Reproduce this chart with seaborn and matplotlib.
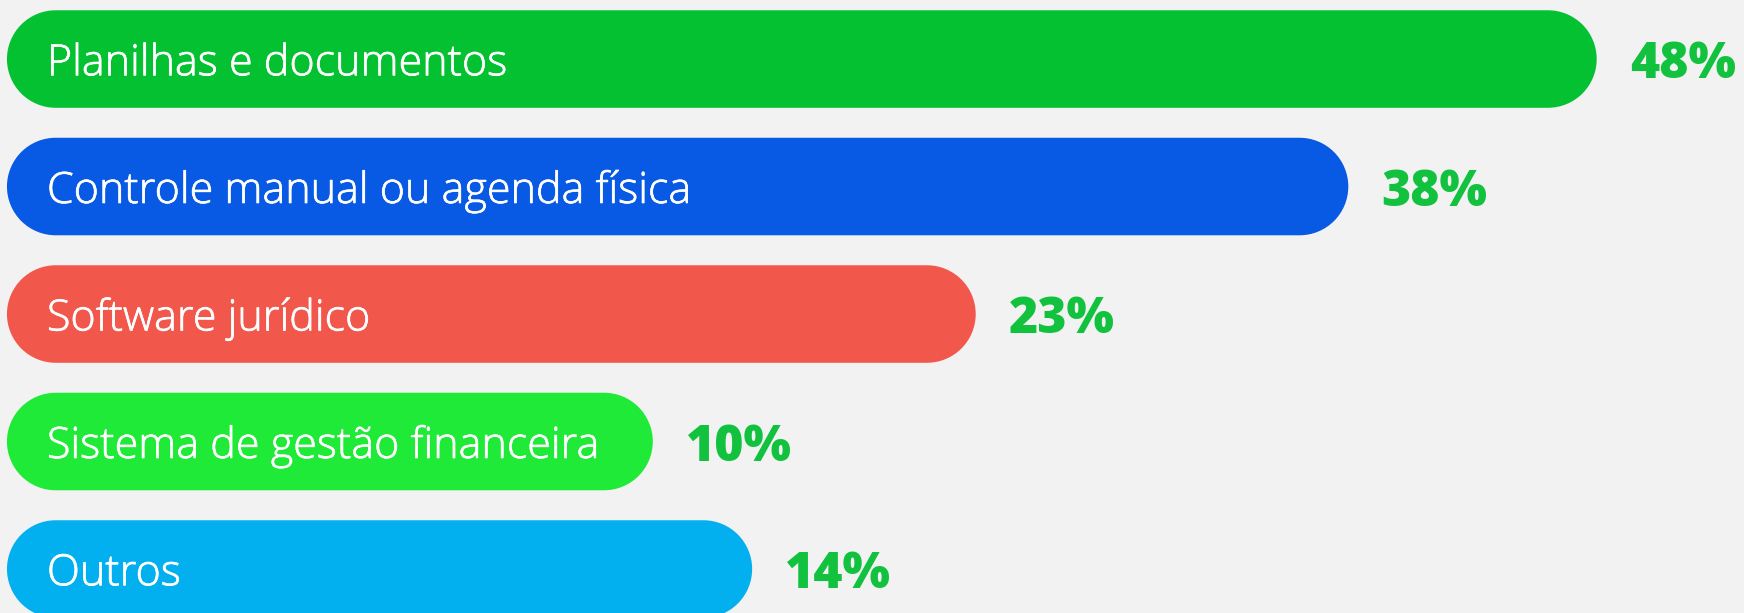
import matplotlib
matplotlib.use("Agg")
import numpy as np
import matplotlib.pyplot as plt
import matplotlib.patheffects as pe
import pandas as pd
import seaborn as sns
from matplotlib.path import Path
from matplotlib.patches import PathPatch

# Survey answers: tools used to keep track of finances
categories = [
    "Planilhas e documentos",
    "Controle manual ou agenda física",
    "Software jurídico",
    "Sistema de gestão financeira",
    "Outros",
]
shares = [48, 38, 23, 10, 14]
value_labels = ["48%", "38%", "23%", "10%", "14%"]
bar_colors = ["#04C132", "#0859E3", "#F1584B", "#1FEA37", "#02B0F0"]

BG = "#F2F2F2"
VALUE_GREEN = "#12C23E"
NAME_ROOM = 16.0  # extra pill length (in % units) so each name fits inside its bar

sns.set_theme(style="white")
plt.rcParams["font.family"] = ["Open Sans", "DejaVu Sans"]

fig = plt.figure(figsize=(17.44, 6.13), dpi=100, facecolor=BG)
ax = fig.add_axes([0, 0, 1, 1])
ax.set_facecolor(BG)

df = pd.DataFrame({"category": categories, "share": shares})
sns.barplot(data=df, x="share", y="category", hue="category",
            palette=bar_colors, width=0.765, orient="h", ax=ax,
            legend=False, saturation=1)

ax.set_xlim(-16.28, 53.93)
ax.set_ylim(4.345, -0.463)
ax.axis("off")

# pixels per data unit, used to give each bar semicircular ends
fig.canvas.draw()
(x0p, y0p), (x1p, y1p) = ax.transData.transform([(0, 0), (1, 1)])
px_per_x = abs(x1p - x0p)
px_per_y = abs(y1p - y0p)


def pill_path(left, right, cy, h):
    """Closed outline of a bar with semicircular ends, in data units."""
    r = (h * px_per_y / 2) / px_per_x
    ry = h / 2
    right_cap = Path.arc(-90, 90)
    left_cap = Path.arc(90, 270)
    rv = right_cap.vertices * [r, ry] + [right - r, cy]
    lv = left_cap.vertices * [r, ry] + [left + r, cy]
    lcodes = left_cap.codes.copy()
    lcodes[0] = Path.LINETO
    verts = np.vstack([rv, lv, rv[:1]])
    codes = np.concatenate([right_cap.codes, lcodes, [Path.CLOSEPOLY]])
    return Path(verts, codes)


name_fx = [pe.withStroke(linewidth=0.5, foreground="white")]

for bar, color, name, lab, val in zip(list(ax.patches), bar_colors,
                                      categories, value_labels, shares):
    x, y, w, h = bar.get_x(), bar.get_y(), bar.get_width(), bar.get_height()
    left = x - NAME_ROOM
    right = x + w
    cy = y + h / 2
    z = bar.get_zorder()
    bar.remove()
    ax.add_patch(PathPatch(pill_path(left, right, cy, h), facecolor=color,
                           edgecolor="none", zorder=z))
    ax.annotate(name, xy=(left, cy), xytext=(40, 0), textcoords="offset pixels",
                ha="left", va="center_baseline", color="white",
                fontsize=31, fontweight="light", path_effects=name_fx, zorder=5)
    ax.annotate(lab, xy=(val, cy), xytext=(33, 0), textcoords="offset pixels",
                ha="left", va="center_baseline", color=VALUE_GREEN,
                fontsize=36, fontweight="extra bold", zorder=5)

fig.savefig("out.png", dpi=100, facecolor=BG)
